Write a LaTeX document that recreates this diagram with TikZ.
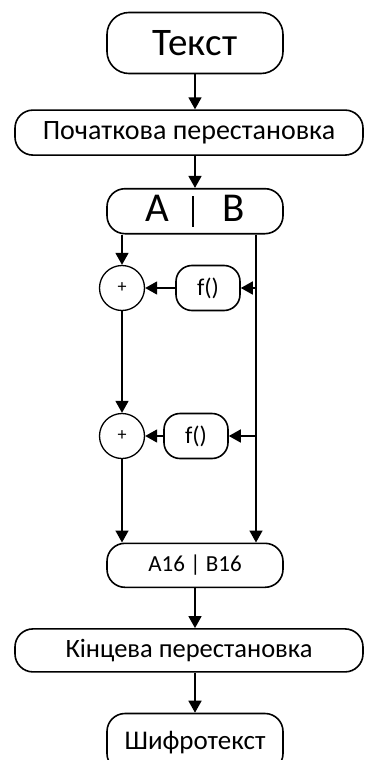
\documentclass[tikz,border=0pt]{standalone}
\usepackage{fontspec}
\setmainfont{Carlito}
\usetikzlibrary{positioning,arrows.meta}

\begin{document}
\begin{tikzpicture}[
  x=1pt, y=-1pt,
  font=\fontsize{24}{28}\selectfont,
  block/.style={
    rectangle,
    rounded corners=18pt,
    draw=black,
    line width=1.6pt,
    fill=white,
    minimum width=176pt,
    minimum height=45pt,
    inner sep=0pt,
    align=center
  },
  wideblock/.style={
    block,
    minimum width=348pt
  },
  sum/.style={
    circle,
    draw=black,
    line width=1.3pt,
    fill=white,
    minimum size=45pt,
    inner sep=0pt,
    font=\fontsize{18}{20}\selectfont
  },
  func/.style={
    block,
    rounded corners=16pt,
    minimum width=64pt
  },
  arrow/.style={
    -{Triangle[length=12pt,width=13pt]},
    line width=1.6pt
  }
]
\useasboundingbox (0,0) rectangle (368,760);
\clip (0,0) rectangle (368,760);

\node[block, minimum height=61pt, rounded corners=22pt, font=\fontsize{39}{44}\selectfont] (text) at (195,43) {Текст};
\node[wideblock, below=35pt of text, xshift=-6pt, font=\fontsize{28}{32}\selectfont] (initperm) {Початкова перестановка};
\node[block, below=32pt of initperm, xshift=6pt, font=\fontsize{41}{44}\selectfont] (ab) {A\hspace{23pt}\rule[-5pt]{1.6pt}{31pt}\hspace{29pt}B};

\coordinate (rline) at (256,0);
\node[sum] (c1) at (122,288) {+};
\node[sum] (c2) at (122,436) {+};
\node[func] (f1) at (208,288) {f()};
\node[func] (f2) at (196,436) {f()};

\node[block, below=308pt of ab, minimum height=44pt, font=\fontsize{23}{26}\selectfont] (a16) {A16 | B16};
\node[wideblock, below=40pt of a16, xshift=-6pt, minimum height=43pt, font=\fontsize{26.5}{30}\selectfont] (final) {Кінцева перестановка};
\node[block, below=40pt of final, xshift=6pt, minimum height=58pt, font=\fontsize{27}{30}\selectfont] (cipher) {Шифротекст};

\draw[arrow] (text) -- (initperm.north -| text);
\draw[arrow] (initperm.south -| ab) -- (ab);
\draw[arrow] (ab.south -| c1) -- (c1);
\draw[arrow] (c1) -- (c2);
\draw[arrow] (c2) -- (a16.north -| c2);
\draw[arrow] (ab.south -| rline) -- (a16.north -| rline);
\draw[arrow] (f1.east -| rline) -- (f1);
\draw[arrow] (f1) -- (c1);
\draw[arrow] (f2.east -| rline) -- (f2);
\draw[arrow] (f2) -- (c2);
\draw[arrow] (a16) -- (final.north -| a16);
\draw[arrow] (final.south -| cipher) -- (cipher);

\end{tikzpicture}
\end{document}
